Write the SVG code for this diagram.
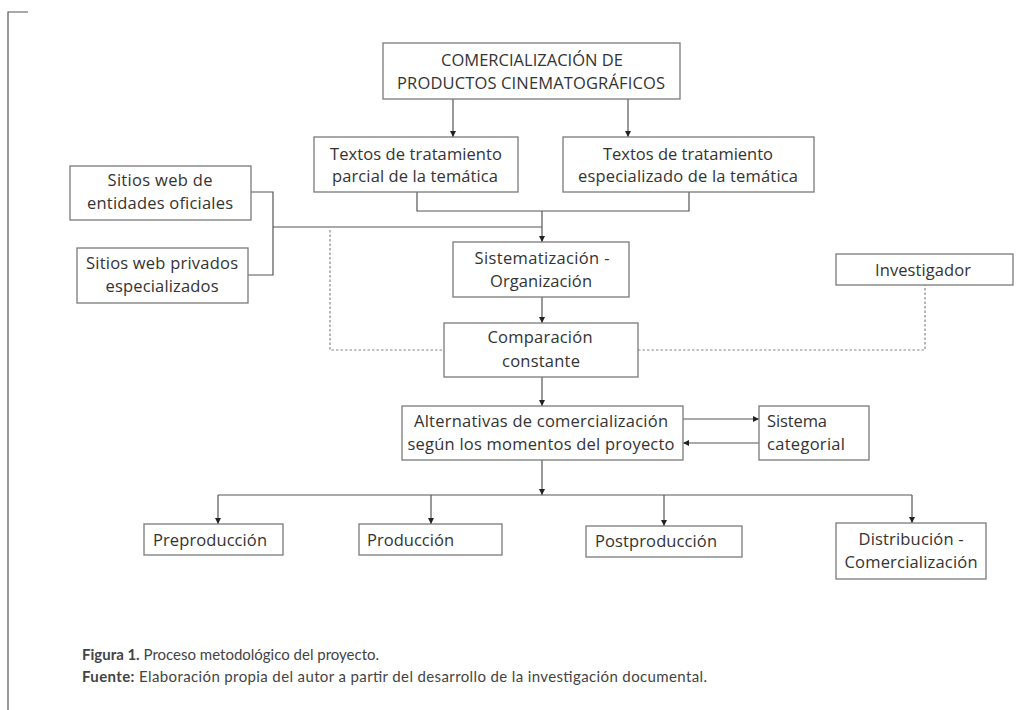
<svg xmlns="http://www.w3.org/2000/svg" width="1029" height="710" viewBox="0 0 1029 710">
<style>
  .box{fill:#fff;stroke:#7a7a7a;stroke-width:1.3}
  .t{font-family:"Open Sans","Liberation Sans",sans-serif;font-size:16.5px;fill:#333}
  .c{text-anchor:middle}
  .ln{fill:none;stroke:#555;stroke-width:1.2}
  .dot{fill:none;stroke:#888;stroke-width:1.2;stroke-dasharray:2.5 2}
  .cap{font-family:Lato,"Open Sans",sans-serif;font-size:15px;fill:#444}
</style>
<defs>
  <marker id="ah" markerUnits="userSpaceOnUse" markerWidth="7" markerHeight="7" refX="6" refY="3" orient="auto">
    <path d="M0,0 L6,3 L0,6 z" fill="#222"/>
  </marker>
</defs>
<rect width="1029" height="710" fill="#fff"/>
<path d="M28,12 H8 V710" fill="none" stroke="#555" stroke-width="1.2"/>

<g id="connectors">
  <path class="ln" d="M453,99 V137" marker-end="url(#ah)"/>
  <path class="ln" d="M628,99 V137" marker-end="url(#ah)"/>
  <path class="ln" d="M417,192 V211 H689 V192"/>
  <path class="ln" d="M251,192 H273 V275 H248"/>
  <path class="ln" d="M273,227 H542"/>
  <path class="ln" d="M542,211 V242" marker-end="url(#ah)"/>
  <path class="ln" d="M542,297 V323" marker-end="url(#ah)"/>
  <path class="dot" d="M330,230 V350 H444"/>
  <path class="dot" d="M638,350 H925 V285"/>
  <path class="ln" d="M542,377 V406" marker-end="url(#ah)"/>
  <path class="ln" d="M683,419 H759" marker-end="url(#ah)"/>
  <path class="ln" d="M759,443 H683" marker-end="url(#ah)"/>
  <path class="ln" d="M542,460 V495" marker-end="url(#ah)"/>
  <path class="ln" d="M218,495 H912"/>
  <path class="ln" d="M218,495 V524" marker-end="url(#ah)"/>
  <path class="ln" d="M431,495 V524" marker-end="url(#ah)"/>
  <path class="ln" d="M664,495 V526" marker-end="url(#ah)"/>
  <path class="ln" d="M912,495 V523" marker-end="url(#ah)"/>
</g>

<g id="n-comercializacion">
  <rect class="box" x="383" y="43" width="297" height="56"/>
  <text class="t c" x="532" y="66" textLength="182">COMERCIALIZACIÓN DE</text>
  <text class="t c" x="531" y="89" textLength="268">PRODUCTOS CINEMATOGRÁFICOS</text>
</g>
<g id="n-textos-parcial">
  <rect class="box" x="314" y="137" width="204" height="55"/>
  <text class="t c" x="416" y="160" textLength="172">Textos de tratamiento</text>
  <text class="t c" x="415" y="182" textLength="166">parcial de la temática</text>
</g>
<g id="n-textos-especializado">
  <rect class="box" x="563" y="137" width="251" height="55"/>
  <text class="t c" x="688" y="160" textLength="170">Textos de tratamiento</text>
  <text class="t c" x="688" y="182" textLength="220">especializado de la temática</text>
</g>
<g id="n-sitios-oficiales">
  <rect class="box" x="70" y="166" width="181" height="54"/>
  <text class="t c" x="160" y="186" textLength="105">Sitios web de</text>
  <text class="t c" x="160" y="209" textLength="146">entidades oficiales</text>
</g>
<g id="n-sitios-privados">
  <rect class="box" x="77" y="248" width="171" height="55"/>
  <text class="t c" x="162" y="269" textLength="152">Sitios web privados</text>
  <text class="t c" x="162" y="292" textLength="113">especializados</text>
</g>
<g id="n-sistematizacion">
  <rect class="box" x="453" y="242" width="176" height="55"/>
  <text class="t c" x="542" y="264" textLength="135">Sistematización -</text>
  <text class="t c" x="541" y="287" textLength="102">Organización</text>
</g>
<g id="n-investigador">
  <rect class="box" x="836" y="254" width="177" height="31"/>
  <text class="t c" x="923" y="276" textLength="96">Investigador</text>
</g>
<g id="n-comparacion">
  <rect class="box" x="444" y="323" width="194" height="54"/>
  <text class="t c" x="540" y="343" textLength="105">Comparación</text>
  <text class="t c" x="541" y="367" textLength="78">constante</text>
</g>
<g id="n-alternativas">
  <rect class="box" x="402" y="406" width="281" height="54"/>
  <text class="t c" x="541" y="427" textLength="254">Alternativas de comercialización</text>
  <text class="t c" x="541" y="450" textLength="267">según los momentos del proyecto</text>
</g>
<g id="n-sistema-categorial">
  <rect class="box" x="759" y="406" width="110" height="54"/>
  <text class="t" x="767" y="427" textLength="60">Sistema</text>
  <text class="t" x="767" y="450" textLength="78">categorial</text>
</g>
<g id="n-preproduccion">
  <rect class="box" x="144" y="524" width="139" height="31"/>
  <text class="t" x="153" y="546" textLength="114">Preproducción</text>
</g>
<g id="n-produccion">
  <rect class="box" x="359" y="524" width="143" height="31"/>
  <text class="t" x="367" y="546" textLength="87">Producción</text>
</g>
<g id="n-postproduccion">
  <rect class="box" x="586" y="526" width="156" height="31"/>
  <text class="t" x="595" y="547" textLength="122">Postproducción</text>
</g>
<g id="n-distribucion">
  <rect class="box" x="836" y="523" width="150" height="56"/>
  <text class="t c" x="911" y="545" textLength="105">Distribución -</text>
  <text class="t c" x="911" y="568" textLength="133">Comercialización</text>
</g>

<g id="caption">
  <text class="cap" x="82" y="660"><tspan font-weight="bold">Figura 1.</tspan> Proceso metodológico del proyecto.</text>
  <text class="cap" x="82" y="682" textLength="625"><tspan font-weight="bold">Fuente:</tspan> Elaboración propia del autor a partir del desarrollo de la investigación documental.</text>
</g>
</svg>
